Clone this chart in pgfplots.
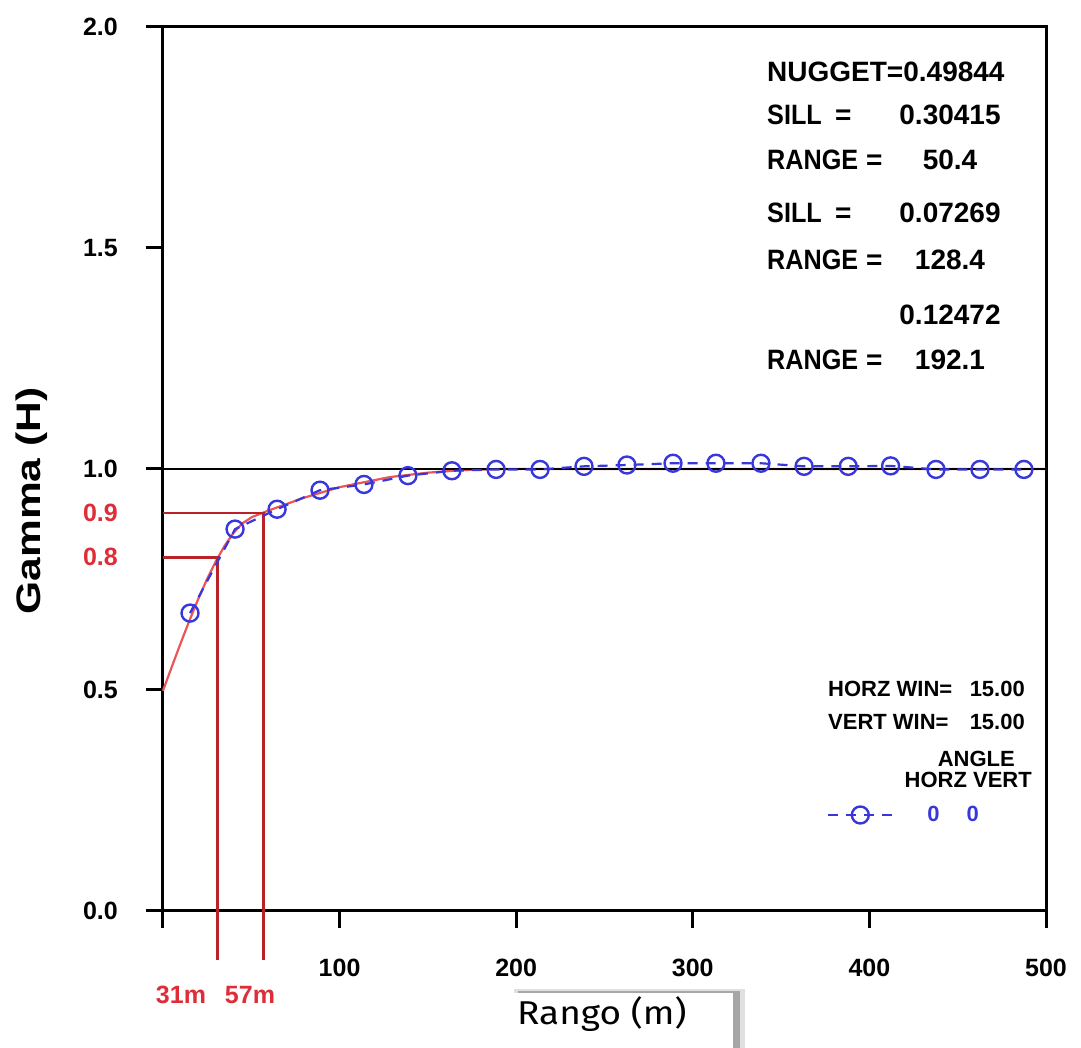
\documentclass[border=0pt]{standalone}
\usepackage{fontspec}
\setmainfont{Liberation Sans}
\newfontfamily\rangofont{Fira Sans}
\usepackage{graphicx}
\usepackage{pgfplots}
\pgfplotsset{compat=1.18}
\definecolor{ptblue}{RGB}{55,55,220}
\definecolor{guidered}{RGB}{185,35,40}
\definecolor{modelred}{RGB}{235,85,85}
\definecolor{labred}{RGB}{222,45,55}
\newcommand{\annfont}{\bfseries\fontsize{28}{28}\selectfont}
\newcommand{\legfont}{\bfseries\fontsize{22}{22}\selectfont}
\newcommand{\nw}[1]{\scalebox{0.9}[1]{#1}}
\begin{document}
\begin{tikzpicture}
\path[use as bounding box] (-163pt,-137pt) rectangle (918pt,911pt);
\begin{axis}[
  at={(0pt,0pt)}, anchor=south west,
  scale only axis, width=883pt, height=884pt,
  xmin=0, xmax=500, ymin=0, ymax=2,
  axis line style={line width=3pt},
  tick align=outside,
  tick pos=left,
  major tick length=17pt,
  tick style={line width=3pt, black},
  xtick={0,100,200,300,400,500},
  xticklabels={,100,200,300,400,500},
  ytick={0,0.5,1,1.5,2},
  yticklabels={0.0,0.5,1.0,1.5,2.0},
  ticklabel style={font=\bfseries\fontsize{25}{25}\selectfont, inner sep=0pt},
  xticklabel style={anchor=base, yshift=-49pt},
  yticklabel style={anchor=east, xshift=-28pt},
  clip=false,
  legend style={draw=none, fill=none, inner sep=0pt, anchor=west,
    at={(axis cs:376,0.2172)}, font=\legfont, text=ptblue,
    nodes={inner sep=0pt},
    /tikz/every odd column/.append style={column sep=34pt}},
  legend image code/.code={%
    \draw[mark repeat=2, mark phase=2] plot coordinates {(0pt,0pt)(32pt,0pt)(64pt,0pt)};},
]
% spherical nested model (nugget + 3 structures), values precomputed
\addplot[modelred, line width=2.2pt, forget plot] coordinates {
  (0,0.49844)(5,0.5527)(10,0.6060)(15,0.6575)(20,0.7062)(25,0.7513)(30,0.7919)
  (35,0.8270)(40,0.8558)(45,0.8772)(50.4,0.8912)(60,0.9064)(80,0.9352)
  (100,0.9589)(128.4,0.9817)(150,0.9917)(170,0.9976)(192.1,1.0)(500,1.0)};
% guide lines
\addplot[guidered, line width=2.5pt, forget plot] coordinates {(0,0.8)(31,0.8)(31,-0.111)};
\addplot[guidered, line width=2.5pt, forget plot] coordinates {(0,0.9)(57,0.9)(57,-0.111)};
% sill line
\addplot[black, line width=2.5pt, forget plot] coordinates {(0,1)(500,1)};
% experimental variogram
\addplot[ptblue, line width=2.2pt, dash pattern=on 10pt off 8pt,
  mark=o, mark size=8.5pt, mark options={solid, line width=2.4pt}] coordinates {
  (15.3,0.674)(40.8,0.864)(64.6,0.909)(88.9,0.952)(113.8,0.965)(138.7,0.985)
  (163.6,0.996)(188.6,0.999)(213.5,0.999)(238.4,1.006)(262.7,1.009)(288.8,1.013)
  (313.1,1.013)(338.6,1.013)(363,1.006)(388,1.006)(412,1.007)(437.7,0.999)
  (462.6,0.999)(487.5,0.999)};
\addlegendentry{0\hspace{27pt}0}
% red labels
\node[anchor=east, text=labred, font=\bfseries\fontsize{25}{25}\selectfont, inner sep=0pt]
  at (axis cs:0,0.9) [xshift=-45pt] {0.9};
\node[anchor=east, text=labred, font=\bfseries\fontsize{25}{25}\selectfont, inner sep=0pt]
  at (axis cs:0,0.8) [xshift=-45pt] {0.8};
\end{axis}
% x labels in red below axis
\node[anchor=base, text=labred, font=\bfseries\fontsize{25}{25}\selectfont, inner sep=0pt] at (18pt,-93pt) {31m};
\node[anchor=base, text=labred, font=\bfseries\fontsize{25}{25}\selectfont, inner sep=0pt] at (87pt,-93pt) {57m};
% y label
\node[rotate=90, anchor=base, inner sep=0pt] at (-122pt,410pt)
  {\scalebox{1.25}[1]{\bfseries\fontsize{34}{34}\selectfont Gamma (H)}};
% annotations
\begin{scope}[every node/.style={inner sep=0pt, font=\annfont}]
\node[anchor=base west] at (604pt,829pt) {NUGGET=0.49844};
\node[anchor=base west] at (604pt,786pt) {\nw{SILL}};
\node[anchor=base west] at (672pt,786pt) {=};
\node[anchor=base] at (787pt,786pt) {0.30415};
\node[anchor=base west] at (604pt,741pt) {\nw{RANGE}};
\node[anchor=base west] at (703pt,741pt) {=};
\node[anchor=base] at (787pt,741pt) {50.4};
\node[anchor=base west] at (604pt,688pt) {\nw{SILL}};
\node[anchor=base west] at (672pt,688pt) {=};
\node[anchor=base] at (787pt,688pt) {0.07269};
\node[anchor=base west] at (604pt,641pt) {\nw{RANGE}};
\node[anchor=base west] at (703pt,641pt) {=};
\node[anchor=base] at (787pt,641pt) {128.4};
\node[anchor=base] at (787pt,586pt) {0.12472};
\node[anchor=base west] at (604pt,541pt) {\nw{RANGE}};
\node[anchor=base west] at (703pt,541pt) {=};
\node[anchor=base] at (787pt,541pt) {192.1};
\end{scope}
\begin{scope}[every node/.style={inner sep=0pt, font=\legfont}]
\node[anchor=base west] at (665pt,214pt) {HORZ WIN=};
\node[anchor=base east] at (862pt,214pt) {15.00};
\node[anchor=base west] at (665pt,181pt) {VERT WIN=};
\node[anchor=base east] at (862pt,181pt) {15.00};
\node[anchor=base east] at (852pt,144pt) {ANGLE};
\node[anchor=base east] at (869pt,123pt) {HORZ VERT};
\end{scope}
% Rango box with shadow
\fill[black!12] (351pt,-137pt) rectangle (582pt,-78pt);
\fill[black!35] (355pt,-137pt) rectangle (577pt,-80pt);
\fill[white] (349pt,-137pt) rectangle (570pt,-82pt);
\node[anchor=base west, inner sep=0pt] at (354pt,-114pt) {\scalebox{1.12}[1]{\rangofont\fontsize{33}{33}\selectfont Rango (m)}};
\end{tikzpicture}
\end{document}
